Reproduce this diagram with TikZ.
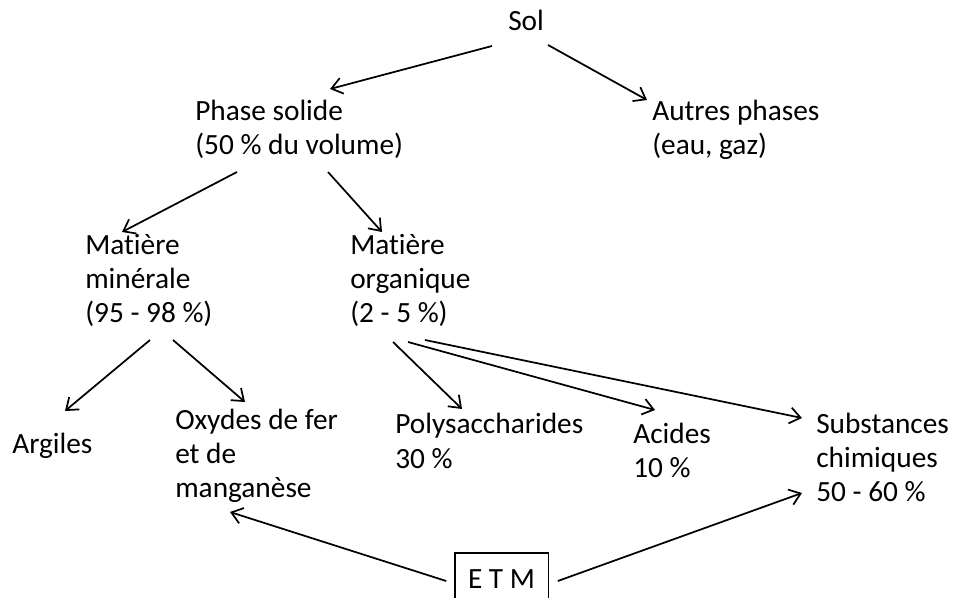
\documentclass[tikz,border=0pt]{standalone}
\usepackage{fontspec}
\setmainfont{Carlito}[Ligatures=NoCommon]
\usetikzlibrary{positioning,calc,arrows.meta}
\tikzset{ARROW/.style={line width=1.3pt, -{Straight Barb[length=8pt,width=12pt,line width=1.3pt]}}}
\tikzset{LABEL/.style={inner sep=0pt, anchor=base west, align=left, font=\fontsize{22}{25.5}\selectfont}}
\tikzset{BOX/.style={rectangle, draw, line width=1pt, minimum width=70pt, minimum height=39pt, font=\fontsize{22}{25.5}\selectfont}}

\begin{document}
\begin{tikzpicture}[x=0.75pt, y=-0.75pt]
    \useasboundingbox (0,0) rectangle (953,598);

    % nodes sit on the baseline of their last line
    \node[LABEL] (n_sol) at (508,31) {Sol};
    \node[LABEL] (n_solide) at (195,155) {Phase solide\\(50 \% du volume)};
    \node[LABEL] (n_autres) at (652,155) {Autres phases\\(eau, gaz)};
    \node[LABEL] (n_minerale) at (85,323) {Matière\\minérale\\(95 - 98 \%)};
    \node[LABEL] (n_organique) at (350,323) {Matière\\organique\\(2 - 5 \%)};
    \node[LABEL] (n_argiles) at (12,453) {Argiles};
    \node[LABEL] (n_oxydes) at (175,497) {Oxydes de fer\\et de\\manganèse};
    \node[LABEL] (n_poly) at (395,468) {Polysaccharides\\30 \%};
    \node[LABEL] (n_acides) at (633,477) {Acides\\10 \%};
    \node[LABEL] (n_subst) at (816,501) {Substances\\chimiques\\50 - 60 \%};
    \node[BOX] (n_etm) at (501.5,579) {E T M};

    % Sol
    \draw[ARROW] ($(n_sol.base west)+(-16,15)$) -- ($(n_solide.base west)+(135,-66)$);
    \draw[ARROW] ($(n_sol.base west)+(40,14)$) -- ($(n_autres.base west)+(-5,-55)$);

    % phase solide
    \draw[ARROW] ($(n_solide.base west)+(42,17)$) -- ($(n_minerale.base west)+(37,-91)$);
    \draw[ARROW] ($(n_solide.base west)+(133,17)$) -- ($(n_organique.base west)+(32,-91)$);

    % matiere minerale
    \draw[ARROW] ($(n_minerale.base west)+(65,17)$) -- ($(n_argiles.base west)+(53,-42)$);
    \draw[ARROW] ($(n_minerale.base west)+(88,17)$) -- ($(n_oxydes.base west)+(70,-95)$);

    % matiere organique
    \draw[ARROW] ($(n_organique.base west)+(43,19)$) -- ($(n_poly.base west)+(67,-59)$);
    \draw[ARROW] ($(n_organique.base west)+(58,19)$) -- ($(n_acides.base west)+(22,-67)$);
    \draw[ARROW] ($(n_organique.base west)+(75,17)$) -- ($(n_subst.base west)+(-14,-83)$);

    % ETM
    \draw[ARROW] ($(n_etm.west)+(-8,2)$) -- ($(n_oxydes.base west)+(55,15)$);
    \draw[ARROW] ($(n_etm.east)+(9,2)$) -- ($(n_subst.base west)+(-14,-8)$);

\end{tikzpicture}
\end{document}
